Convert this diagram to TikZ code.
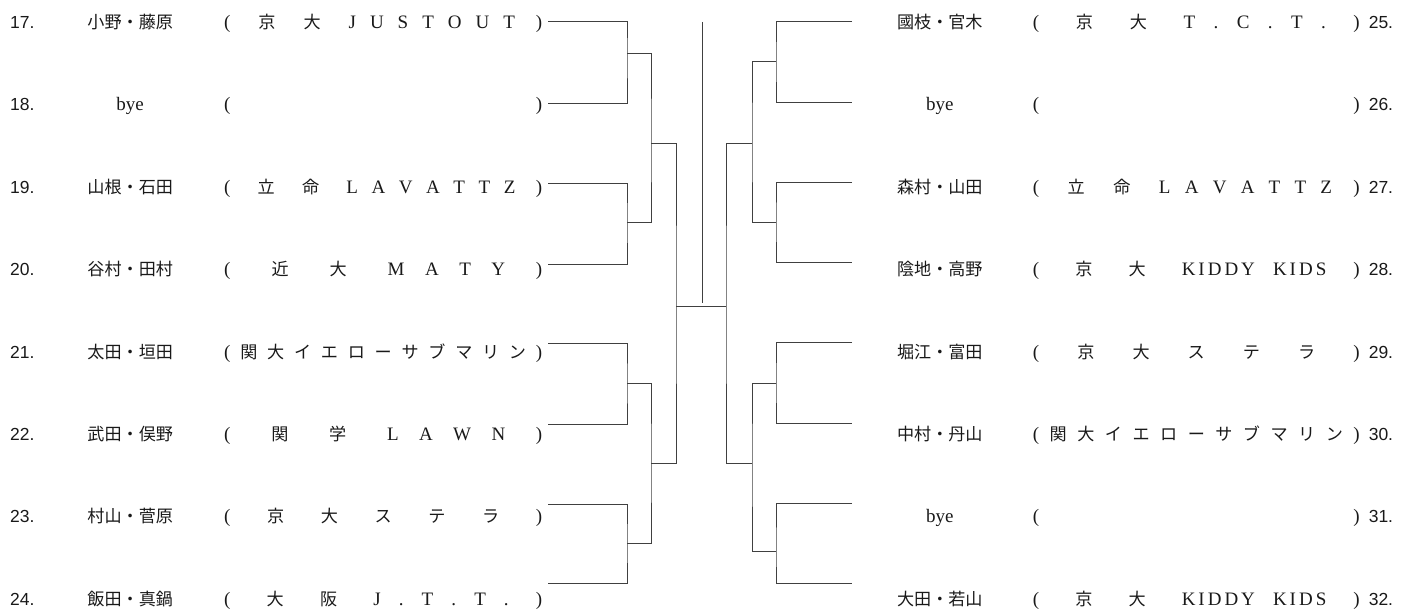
\documentclass[tikz,border=0pt]{standalone}
\usepackage{fontspec}
\setmainfont{Liberation Serif}
\newfontfamily\jp[Scale=0.9]{Noto Sans CJK JP}
\newfontfamily\numfont[Scale=0.92]{Liberation Sans}
\usepackage{tikz}
\usetikzlibrary{positioning}
\tikzstyle{entry} = [inner sep=0pt, text height=15pt, text depth=4pt,
text=black!90, font={\fontsize{19}{22}\selectfont}]
\tikzstyle{line} = [draw, black!75, line width=1pt]
% team name spread between the brackets: kanji/kana wide, letters closer
\newcommand\team[3]{\makebox[#1]{(\foreach \tok in {#2}{\hspace{\stretch{2}}\tok}%
\def\teamrest{#3}\ifx\teamrest\empty\hspace{\stretch{2}}\else
\foreach [count=\i] \tok in {#3}{\ifnum\i=1 \hspace{\stretch{2}}\else\hspace{\stretch{1}}\fi\tok}%
\hspace{\stretch{1.5}}\fi)}}
\newcommand\lrow[4]{\makebox[60pt][l]{\numfont #1}\makebox[120pt]{#2}\hspace{34pt}\team{318pt}{#3}{#4}}
\newcommand\rrow[4]{\makebox[120pt]{#2}\hspace{33pt}\team{327pt}{#3}{#4}\hspace{9pt}\makebox[25pt][l]{\numfont #1}}
\newcommand\kid{K\kern3pt I\kern3pt D\kern3pt D\kern3pt Y}
\newcommand\kids{K\kern3pt I\kern3pt D\kern3pt S}
\begin{document}
\begin{tikzpicture}[x=1pt, y=-1pt]
	\useasboundingbox (0,0) rectangle (1414,610);
	% Place entries
	\node [entry, anchor=west] (t17) at (10,23) {\lrow{17.}{\jp 小野・藤原}{\jp 京,\jp 大}{J,U,S,T,O,U,T}};
	\node [entry, anchor=west] (t18) at (10,105.4) {\lrow{18.}{bye}{}{}};
	\node [entry, anchor=west] (t19) at (10,187.8) {\lrow{19.}{\jp 山根・石田}{\jp 立,\jp 命}{L,A,V,A,T,T,Z}};
	\node [entry, anchor=west] (t20) at (10,270.2) {\lrow{20.}{\jp 谷村・田村}{\jp 近,\jp 大}{M,A,T,Y}};
	\node [entry, anchor=west] (t21) at (10,352.6) {\lrow{21.}{\jp 太田・垣田}{\jp 関,\jp 大,\jp イ,\jp エ,\jp ロ,\jp ー,\jp サ,\jp ブ,\jp マ,\jp リ,\jp ン}{}};
	\node [entry, anchor=west] (t22) at (10,435) {\lrow{22.}{\jp 武田・俣野}{\jp 関,\jp 学}{L,A,W,N}};
	\node [entry, anchor=west] (t23) at (10,517.4) {\lrow{23.}{\jp 村山・菅原}{\jp 京,\jp 大,\jp ス,\jp テ,\jp ラ}{}};
	\node [entry, anchor=west] (t24) at (10,599.8) {\lrow{24.}{\jp 飯田・真鍋}{\jp 大,\jp 阪}{J,.,T,.,T,.}};
	
	\node [entry, anchor=east] (t25) at (1394,23) {\rrow{25.}{\jp 國枝・官木}{\jp 京,\jp 大}{T,.,C,.,T,.}};
	\node [entry, anchor=east] (t26) at (1394,105.4) {\rrow{26.}{bye}{}{}};
	\node [entry, anchor=east] (t27) at (1394,187.8) {\rrow{27.}{\jp 森村・山田}{\jp 立,\jp 命}{L,A,V,A,T,T,Z}};
	\node [entry, anchor=east] (t28) at (1394,270.2) {\rrow{28.}{\jp 陰地・高野}{\jp 京,\jp 大}{\kid,\kids}};
	\node [entry, anchor=east] (t29) at (1394,352.6) {\rrow{29.}{\jp 堀江・富田}{\jp 京,\jp 大,\jp ス,\jp テ,\jp ラ}{}};
	\node [entry, anchor=east] (t30) at (1394,435) {\rrow{30.}{\jp 中村・丹山}{\jp 関,\jp 大,\jp イ,\jp エ,\jp ロ,\jp ー,\jp サ,\jp ブ,\jp マ,\jp リ,\jp ン}{}};
	\node [entry, anchor=east] (t31) at (1394,517.4) {\rrow{31.}{bye}{}{}};
	\node [entry, anchor=east] (t32) at (1394,599.8) {\rrow{32.}{\jp 大田・若山}{\jp 京,\jp 大}{\kid,\kids}};
	
	% Bracket points
	\coordinate (p17) at (548,22);  \coordinate (p18) at (548,103);
	\coordinate (p19) at (548,183); \coordinate (p20) at (548,264);
	\coordinate (p21) at (548,343); \coordinate (p22) at (548,424);
	\coordinate (p23) at (548,504); \coordinate (p24) at (548,583);
	\coordinate (p25) at (852,22);  \coordinate (p26) at (852,102);
	\coordinate (p27) at (852,182); \coordinate (p28) at (852,262);
	\coordinate (p29) at (852,342); \coordinate (p30) at (852,423);
	\coordinate (p31) at (852,503); \coordinate (p32) at (852,583);
	\coordinate (q1) at (627,54);  \coordinate (q2) at (627,222);
	\coordinate (q3) at (627,383); \coordinate (q4) at (627,543);
	\coordinate (q5) at (776,62);  \coordinate (q6) at (776,222);
	\coordinate (q7) at (776,383); \coordinate (q8) at (776,551);
	\coordinate (r1) at (651,143); \coordinate (r2) at (651,463);
	\coordinate (r3) at (752,143); \coordinate (r4) at (752,463);
	\coordinate (s1) at (676,306); \coordinate (s2) at (726,306);
	\coordinate (top) at (702,22); \coordinate (foot) at (702,303);
	
	\path [line] (p17) -| (q1) |- (p18);
	\path [line] (p19) -| (q2) |- (p20);
	\path [line] (p21) -| (q3) |- (p22);
	\path [line] (p23) -| (q4) |- (p24);
	\path [line] (p25) -| (q5) |- (p26);
	\path [line] (p27) -| (q6) |- (p28);
	\path [line] (p29) -| (q7) |- (p30);
	\path [line] (p31) -| (q8) |- (p32);
	\path [line] (q1) -| (r1) |- (q2);
	\path [line] (q3) -| (r2) |- (q4);
	\path [line] (q5) -| (r3) |- (q6);
	\path [line] (q7) -| (r4) |- (q8);
	\path [line] (r1) -| (s1) |- (r2);
	\path [line] (r3) -| (s2) |- (r4);
	\path [line] (s1) -- (s2);
	\path [line] (top) -- (foot);
	
\end{tikzpicture}
\end{document}
